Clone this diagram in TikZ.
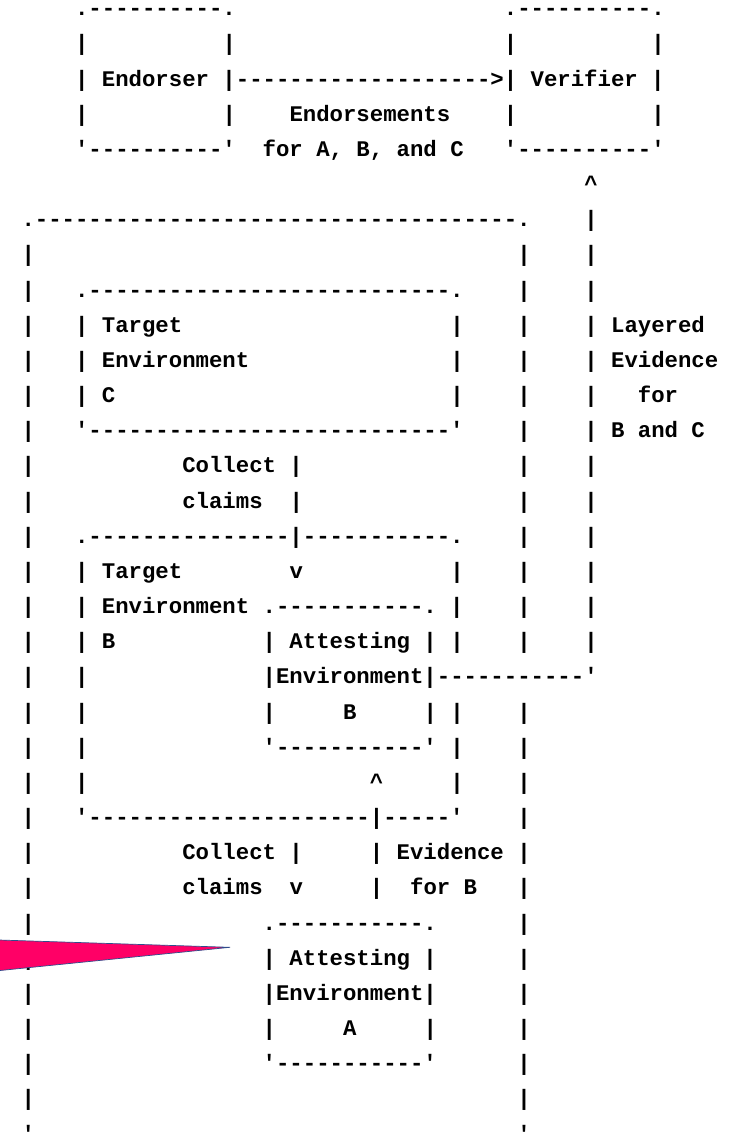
\documentclass[tikz,border=0pt]{standalone}
\usepackage{fontspec}
\setmonofont{Liberation Mono}
\definecolor{flagfill}{RGB}{255,0,102}
\definecolor{flagedge}{RGB}{46,76,140}
\newcommand\asciifont{\ttfamily\bfseries\fontsize{22.33pt}{35pt}\selectfont\frenchspacing}
% one run of characters, placed on the character grid (row, column)
\newcommand\seg[3]{\node[ascii] (r#1c#2) at ({#2*13.4pt-5.3pt},{-15.7pt-#1*35.17pt}) {#3};}
\newcommand\caret{\textasciicircum}
\tikzset{ascii/.style={anchor=base west,inner sep=0pt,outer sep=0pt,font=\asciifont,text=black}}
\begin{document}
\begin{tikzpicture}
\fill[white] (0,0) rectangle (739pt,-1132pt);
\useasboundingbox (0,0) rectangle (739pt,-1132pt);
% Endorser and Verifier
\seg{0}{6}{.----------.}
\seg{0}{38}{.----------.}
\seg{1}{6}{|}\seg{1}{17}{|}\seg{1}{38}{|}\seg{1}{49}{|}
\seg{2}{6}{| Endorser |------------------->| Verifier |}
\seg{3}{6}{|}\seg{3}{17}{|}\seg{3}{22}{Endorsements}\seg{3}{38}{|}\seg{3}{49}{|}
\seg{4}{6}{'----------'}\seg{4}{20}{for A, B, and C}\seg{4}{38}{'----------'}
\seg{5}{44}{\caret}
% outer box and evidence path
\seg{6}{2}{.------------------------------------.}\seg{6}{44}{|}
\seg{7}{2}{|}\seg{7}{39}{|}\seg{7}{44}{|}
\seg{8}{2}{|}\seg{8}{6}{.---------------------------.}\seg{8}{39}{|}\seg{8}{44}{|}
\seg{9}{2}{|}\seg{9}{6}{| Target}\seg{9}{34}{|}\seg{9}{39}{|}\seg{9}{44}{| Layered}
\seg{10}{2}{|}\seg{10}{6}{| Environment}\seg{10}{34}{|}\seg{10}{39}{|}\seg{10}{44}{| Evidence}
\seg{11}{2}{|}\seg{11}{6}{| C}\seg{11}{34}{|}\seg{11}{39}{|}\seg{11}{44}{|}\seg{11}{48}{for}
\seg{12}{2}{|}\seg{12}{6}{'---------------------------'}\seg{12}{39}{|}\seg{12}{44}{| B and C}
\seg{13}{2}{|}\seg{13}{14}{Collect |}\seg{13}{39}{|}\seg{13}{44}{|}
\seg{14}{2}{|}\seg{14}{14}{claims}\seg{14}{22}{|}\seg{14}{39}{|}\seg{14}{44}{|}
% Target Environment B with Attesting Environment B
\seg{15}{2}{|}\seg{15}{6}{.---------------|-----------.}\seg{15}{39}{|}\seg{15}{44}{|}
\seg{16}{2}{|}\seg{16}{6}{| Target}\seg{16}{22}{v}\seg{16}{34}{|}\seg{16}{39}{|}\seg{16}{44}{|}
\seg{17}{2}{|}\seg{17}{6}{| Environment .-----------. |}\seg{17}{39}{|}\seg{17}{44}{|}
\seg{18}{2}{|}\seg{18}{6}{| B}\seg{18}{20}{| Attesting | |}\seg{18}{39}{|}\seg{18}{44}{|}
\seg{19}{2}{|}\seg{19}{6}{|}\seg{19}{20}{|Environment|-----------'}
\seg{20}{2}{|}\seg{20}{6}{|}\seg{20}{20}{|}\seg{20}{26}{B}\seg{20}{32}{|}\seg{20}{34}{|}\seg{20}{39}{|}
\seg{21}{2}{|}\seg{21}{6}{|}\seg{21}{20}{'-----------' |}\seg{21}{39}{|}
\seg{22}{2}{|}\seg{22}{6}{|}\seg{22}{28}{\caret}\seg{22}{34}{|}\seg{22}{39}{|}
\seg{23}{2}{|}\seg{23}{6}{'---------------------|-----'}\seg{23}{39}{|}
\seg{24}{2}{|}\seg{24}{14}{Collect |}\seg{24}{28}{| Evidence |}
\seg{25}{2}{|}\seg{25}{14}{claims}\seg{25}{22}{v}\seg{25}{28}{|}\seg{25}{31}{for B}\seg{25}{39}{|}
% Attesting Environment A
\seg{26}{2}{|}\seg{26}{20}{.-----------.}\seg{26}{39}{|}
\seg{27}{2}{|}\seg{27}{20}{| Attesting |}\seg{27}{39}{|}
\seg{28}{2}{|}\seg{28}{20}{|Environment|}\seg{28}{39}{|}
\seg{29}{2}{|}\seg{29}{20}{|}\seg{29}{26}{A}\seg{29}{32}{|}\seg{29}{39}{|}
\seg{30}{2}{|}\seg{30}{20}{'-----------'}\seg{30}{39}{|}
\seg{31}{2}{|}\seg{31}{39}{|}
\seg{32}{2}{'}\seg{32}{39}{'}
% pointer wedge at the left edge
\filldraw[fill=flagfill,draw=flagedge,line width=0.7pt]
  (-4pt,-939.9pt) -- (230pt,-947.3pt) -- (-4pt,-970.9pt) -- cycle;
\end{tikzpicture}
\end{document}
